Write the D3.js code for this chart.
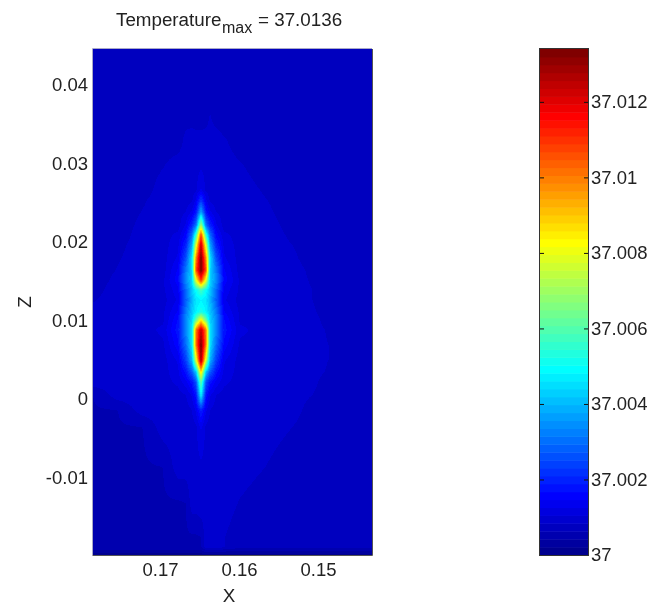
<!DOCTYPE html>
<html>
<head>
<meta charset="utf-8">
<script src="https://cdn.jsdelivr.net/npm/d3@7"></script>
<style>
	body { margin: 0; background: white; overflow: hidden; }
	canvas, svg { position: absolute; left: 0; top: 0; }
	text { font-family: "Liberation Sans", Arial, sans-serif; font-size: 18.8px; fill: #222; }
	svg { filter: blur(0.35px); }
</style>
</head>
<body>
<canvas id="field"></canvas>
<script>
const width = 650, height = 607;

// grid of the temperature field
const xValues = [0.17848, 0.17532, 0.17215, 0.16962, 0.16772, 0.16671, 0.16595, 0.16544, 0.16481, 0.16418, 0.16367, 0.16291, 0.16190, 0.15987, 0.15671, 0.15329, 0.15076, 0.14873, 0.14316];
const zValues = [0.04453, 0.03639, 0.03295, 0.02977, 0.02659, 0.02532, 0.02379, 0.02214, 0.02087, 0.01959, 0.01794, 0.01641, 0.01514, 0.01387, 0.01260, 0.01107, 0.01005, 0.00878, 0.00687, 0.00496, 0.00344, 0.00216, 0.00051, -0.00140, -0.00356, -0.00865, -0.01323, -0.01756, -0.01883, -0.01985];

// temperature above 37, in units of 1e-4. one row per z value, top to bottom
const tempRows = [
	[7,7,7,7,7,7,7,7,7,7,7,7,7,7,7,7,7,7,7],
	[7,7,7,7,7,7,7,6.4,6.4,7,8.4,7,6.4,7,7,7,7,7,7],
	[7,7,7,7,7,9.2,9.5,9.5,9.5,9.5,9.5,9.5,8.7,7,7,7,7,7,7],
	[7,7,7,8.2,9.5,9.5,9.5,9.5,10,9.5,9.5,9.5,9.5,8.6,7,7,7,7,7],
	[7,7,7.3,9.5,9.5,9.5,9.5,10,13,10,9.5,9.5,9.5,9.5,8.1,7,7,7,7],
	[7,7,8.1,9.5,9.5,9.5,10,13,22,13,10,9.5,9.5,9.5,8.5,7,7,7,7],
	[7,7,8.5,9.5,9.5,10.5,13,18,38,18,13,10.5,9.5,9.5,9,7,7,7,7],
	[7,7,9.1,9.5,9.5,13,20,30,70,30,20,13,9.5,9.5,9.5,7.5,7,7,7],
	[7,7.2,9.5,9.5,11,16,30,55,108,55,30,16,11,9.5,9.5,8,7,7,7],
	[7,7.8,9.5,9.5,12,20,38,78,125,78,38,20,12,9.5,9.5,8.4,7,7,7],
	[7,8.2,9.5,9.5,13,26,46,98,134,98,46,26,13,9.5,9.5,9,7,7,7],
	[7,8.5,9.5,9.5,15,32,45,106,134,106,45,32,15,9.5,9.5,9.5,7.8,7,7],
	[7,9.1,9.5,10,16,34,44,80,112,80,44,34,16,10,9.5,9.5,8.1,7,7],
	[7.5,9.5,9.5,10,14,30,42,50,58,50,42,30,14,10,9.5,9.5,8.4,7,7],
	[8.2,9.5,9.5,9.5,13,28,40,46,48,46,40,28,13,9.5,9.5,9.5,8.4,7,7],
	[9,9.5,9.5,10,15,32,42,48,52,48,42,32,15,10,9.5,9.5,8.9,7,7],
	[9.5,9.5,9.5,10,17,34,44,62,85,62,44,34,17,10,9.5,9.5,9.5,7.3,7],
	[9.5,9.5,9.5,11,18,34,46,100,125,100,46,34,18,11,9.5,9.5,9.5,8.1,7],
	[9.5,9.5,9.5,10,16,30,46,100,134,100,46,30,16,10,9.5,9.5,9.5,8.4,7],
	[9.5,9.5,9.5,9.5,13,24,40,78,130,78,40,24,13,9.5,9.5,9.5,9.5,8.4,7],
	[9.5,9.5,9.5,9.5,12,18,28,42,88,42,28,18,12,9.5,9.5,9.5,9.5,8.1,7],
	[9.5,9.5,9.5,9.5,11,14,18,26,62,26,18,14,11,9.5,9.5,9.5,9.2,7,7],
	[6.3,9.5,9.5,9.5,9.5,10.5,13,18,48,18,13,10.5,9.5,9.5,9.5,9.5,8.4,7,7],
	[6,6.3,9.5,9.5,9.5,9.5,10.5,13,20,13,10.5,9.5,9.5,9.5,9.5,9.5,7.3,7,7],
	[6,6,6.3,9.5,9.5,9.5,9.5,10,13,10,9.5,9.5,9.5,9.5,9.5,8.4,7,7,7],
	[6,6,6,6.3,9.5,9.5,9.5,9.5,10,9.5,9.5,9.5,9.5,9.5,8.4,7,7,7,7],
	[6,6,6,6,6,6.3,9.5,9.5,10,9.5,9.5,9.5,9.5,8.2,7,7,7,7,7],
	[6,6,6,6,6,6,6,6,6.3,9.5,10,10,8.5,7,7,7,7,7,7],
	[6,6,6,6,6,6,6,6,6.3,9.5,10,10,8.5,7,7,7,7,7,7],
	[1,1,1,1,1,1,1,1,1,1,1,1,1,1,1,1,1,1,1]
];

const xTicks = [0.17, 0.16, 0.15];
const zTicks = [0.04, 0.03, 0.02, 0.01, 0, -0.01];
const zTickLabels = ["0.04", "0.03", "0.02", "0.01", "0", "-0.01"];
const barTicks = [37, 37.002, 37.004, 37.006, 37.008, 37.01, 37.012];
const barTickLabels = ["37", "37.002", "37.004", "37.006", "37.008", "37.01", "37.012"];
const barDomain = [37, 37.0134];

const plot = { left: 93, right: 372, top: 49, bottom: 555 };
const bar = { left: 540, right: 588, top: 49, bottom: 555 };

// jet with 64 levels, same as the colorbar steps
const jet = d3.scaleLinear()
	.domain([0, 7, 23, 39, 55, 63])
	.range(["#00008f", "#0000ff", "#00ffff", "#ffff00", "#ff0000", "#800000"]);
const levels = d3.range(64);
const colorScale = d3.scaleQuantize().domain(barDomain).range(levels.map(i => d3.rgb(jet(i))));

const xScale = d3.scaleLinear().domain([0.17848, 0.14316]).range([plot.left, plot.right]);
const zScale = d3.scaleLinear().domain([-0.01985, 0.04453]).range([plot.bottom, plot.top]);
const barScale = d3.scaleLinear().domain(barDomain).range([bar.bottom, bar.top]);

const svg = d3.select("body").append("svg")
	.attr("width", width)
	.attr("height", height);

function main() {
	drawField();
	drawAxes();
	drawColorbar();
	drawLabels();
}

// shaded like matlab's "shading interp": bilinear between grid nodes, then snapped to a level
function drawField() {
	const canvas = d3.select("#field").attr("width", width).attr("height", height).node();
	const ctx = canvas.getContext("2d");
	const w = plot.right - plot.left, h = plot.bottom - plot.top;
	const img = ctx.createImageData(w, h);
	const gridX = xValues.map(xScale);
	const gridY = zValues.map(zScale);
	const bisect = d3.bisector(d => d).right;

	for(let py = 0; py < h; py++) {
		const sy = plot.top + py + 0.5;
		const j = Math.min(Math.max(bisect(gridY, sy) - 1, 0), gridY.length - 2);
		const ty = (sy - gridY[j]) / (gridY[j+1] - gridY[j]);
		for(let px = 0; px < w; px++) {
			const sx = plot.left + px + 0.5;
			const i = Math.min(Math.max(bisect(gridX, sx) - 1, 0), gridX.length - 2);
			const tx = (sx - gridX[i]) / (gridX[i+1] - gridX[i]);
			const top = tempRows[j][i] * (1 - tx) + tempRows[j][i+1] * tx;
			const low = tempRows[j+1][i] * (1 - tx) + tempRows[j+1][i+1] * tx;
			const c = colorScale(37 + (top * (1 - ty) + low * ty) * 1e-4);
			const k = (py * w + px) * 4;
			img.data[k] = c.r;
			img.data[k+1] = c.g;
			img.data[k+2] = c.b;
			img.data[k+3] = 255;
		}
	}
	ctx.putImageData(img, plot.left, plot.top);
}

function drawAxes() {
	const xAxis = d3.axisBottom(xScale).tickValues(xTicks).tickSize(0).tickPadding(8).tickFormat(d3.format(".2f"));
	svg.append("g").attr("transform", `translate(0,${plot.bottom})`).call(xAxis)
		.call(g => g.select(".domain").remove());

	const zAxis = d3.axisLeft(zScale).tickValues(zTicks).tickSize(0).tickPadding(5)
		.tickFormat((d, i) => zTickLabels[i]);
	svg.append("g").attr("transform", `translate(${plot.left},0)`).call(zAxis)
		.call(g => g.select(".domain").remove());

	// box is faint on top and left, darker on the other two sides
	svg.append("path")
		.attr("d", `M${plot.left - 0.5},${plot.bottom}V${plot.top - 0.5}H${plot.right}`)
		.attr("fill", "none").attr("stroke", "#a9a9c8");
	svg.append("path")
		.attr("d", `M${plot.left - 0.5},${plot.bottom + 0.5}H${plot.right + 0.5}V${plot.top}`)
		.attr("fill", "none").attr("stroke", "#555");
}

function drawColorbar() {
	const step = (barDomain[1] - barDomain[0]) / levels.length;
	svg.append("g").selectAll("rect")
		.data(levels)
		.enter()
		.append("rect")
		.attr("x", bar.left)
		.attr("width", bar.right - bar.left)
		.attr("y", d => barScale(barDomain[0] + (d + 1) * step))
		.attr("height", d => barScale(barDomain[0] + d * step) - barScale(barDomain[0] + (d + 1) * step) + 0.5)
		.attr("fill", d => colorScale.range()[d]);

	const rightAxis = d3.axisRight(barScale).tickValues(barTicks).tickSize(-4).tickPadding(7)
		.tickFormat((d, i) => barTickLabels[i]);
	svg.append("g").attr("transform", `translate(${bar.right},0)`).call(rightAxis)
		.call(g => g.select(".domain").remove())
		.call(g => g.selectAll("line").attr("stroke", "#111"))
		.call(g => g.selectAll("text").attr("x", 3));

	const leftAxis = d3.axisLeft(barScale).tickValues(barTicks.slice(1)).tickSize(-4).tickFormat("");
	svg.append("g").attr("transform", `translate(${bar.left},0)`).call(leftAxis)
		.call(g => g.select(".domain").remove())
		.call(g => g.selectAll("line").attr("stroke", "#111"));

	svg.append("rect")
		.attr("x", bar.left - 0.5)
		.attr("y", bar.top - 0.5)
		.attr("width", bar.right - bar.left + 1)
		.attr("height", bar.bottom - bar.top + 1)
		.attr("fill", "none")
		.attr("stroke", "#333");
}

function drawLabels() {
	svg.append("text").attr("x", 116).attr("y", 26).text("Temperature");
	svg.append("text").attr("x", 222).attr("y", 33).style("font-size", "16px").text("max");
	svg.append("text").attr("x", 258).attr("y", 26).text("= 37.0136");

	svg.append("text")
		.attr("x", 229).attr("y", 602)
		.attr("text-anchor", "middle")
		.text("X");

	svg.append("text")
		.attr("transform", "translate(31,302) rotate(-90)")
		.attr("text-anchor", "middle")
		.text("Z");

	svg.selectAll("g text").style("font-size", "18.5px").style("font-family", '"Liberation Sans", Arial, sans-serif').style("fill", "#222");
}

main()
</script>
</body>
</html>
